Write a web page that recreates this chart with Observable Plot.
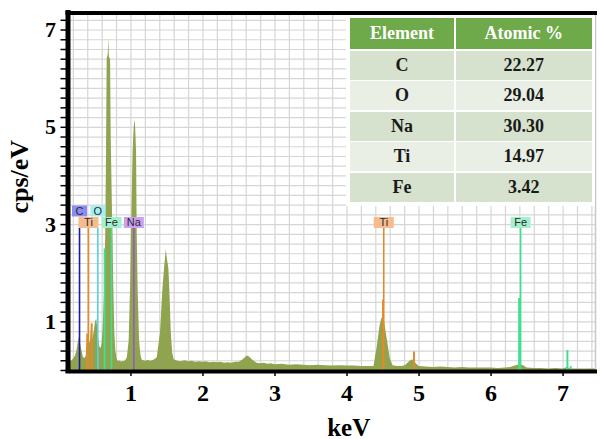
<!DOCTYPE html>
<html>
<head>
<meta charset="utf-8">
<script src="https://cdn.jsdelivr.net/npm/d3@7"></script>
<script src="https://cdn.jsdelivr.net/npm/@observablehq/plot@0.6"></script>
<style>
  body { margin: 0; background: #fff; }
  #chart { position: relative; width: 600px; height: 439px; overflow: hidden; }
  #chart svg { position: absolute; left: 0; top: 0; }
  #tableBox { position: absolute; left: 346px; top: 15px; width: 249px; height: 191px; background: #fff; }
  #comp {
    position: absolute; left: 350px; top: 18px;
    display: grid; grid-template-columns: 104px 136.5px;
    grid-template-rows: 31px repeat(5, 29px); gap: 1.5px;
    font-family: "Liberation Serif", "Times New Roman", serif; font-weight: bold; font-size: 18px;
  }
  #comp div { display: flex; align-items: center; justify-content: center; }
  #comp .hd { background: #6eaa4a; color: #fff; }
  #comp .dark { background: #d7e2ce; color: #1a1a1a; }
  #comp .light { background: #e9efe4; color: #1a1a1a; }
</style>
</head>
<body>
<div id="chart"></div>
<script>
// EDS spectrum: energy (keV) and intensity (cps/eV)
const energy = [
  0.13, 0.15, 0.17, 0.19, 0.21, 0.23, 0.25, 0.27, 0.285, 0.30, 0.32, 0.34, 0.36, 0.38,
  0.395, 0.41, 0.425, 0.44, 0.455, 0.47, 0.485, 0.50, 0.51, 0.525, 0.54, 0.555, 0.57, 0.585,
  0.60, 0.615, 0.635, 0.65, 0.661, 0.67, 0.685, 0.693, 0.70, 0.717, 0.725, 0.73, 0.749, 0.765,
  0.776, 0.79, 0.81, 0.83, 0.85, 0.87, 0.89, 0.91, 0.93, 0.95, 0.975, 0.994, 1.008, 1.03,
  1.045, 1.055, 1.065, 1.078, 1.087, 1.10, 1.12, 1.14, 1.157, 1.18, 1.21, 1.24, 1.27, 1.30,
  1.33, 1.365, 1.41, 1.443, 1.467, 1.49, 1.505, 1.526, 1.54, 1.56, 1.58, 1.60, 1.65, 1.70,
  1.75, 1.80, 1.85, 1.90, 1.95, 2.00, 2.05, 2.10, 2.15, 2.20, 2.25, 2.30, 2.35, 2.40, 2.45,
  2.50, 2.55, 2.60, 2.62, 2.65, 2.70, 2.75, 2.80, 2.85, 2.90, 2.95, 3.00, 3.10, 3.20, 3.30,
  3.40, 3.50, 3.60, 3.70, 3.80, 3.90, 4.00, 4.10, 4.20, 4.30, 4.374, 4.42, 4.457, 4.485,
  4.52, 4.56, 4.60, 4.64, 4.70, 4.76, 4.81, 4.86, 4.907, 4.95, 5.00, 5.10, 5.20, 5.30, 5.40,
  5.50, 5.60, 5.70, 5.80, 5.90, 6.00, 6.10, 6.20, 6.27, 6.35, 6.40, 6.45, 6.50, 6.60, 6.70,
  6.80, 6.90, 7.00, 7.06, 7.10, 7.20, 7.30, 7.45
];
const counts = [
  0.16, 0.17, 0.19, 0.21, 0.25, 0.30, 0.40, 0.58, 0.69, 0.55, 0.40, 0.27, 0.24, 0.30,
  0.75, 0.50, 0.55, 0.62, 0.96, 0.62, 0.75, 0.90, 1.00, 1.06, 0.85, 0.60, 0.48, 0.45,
  0.55, 0.90, 1.65, 2.80, 4.50, 6.40, 6.50, 6.83, 6.45, 6.39, 4.90, 4.44, 2.80, 1.50,
  0.77, 0.40, 0.22, 0.18, 0.20, 0.17, 0.19, 0.18, 0.21, 0.26, 0.60, 1.65, 2.82, 4.50,
  5.00, 5.15, 5.00, 4.50, 2.80, 1.65, 0.60, 0.30, 0.21, 0.20, 0.19, 0.21, 0.19, 0.20,
  0.22, 0.26, 0.77, 1.65, 2.10, 2.48, 2.30, 2.10, 1.65, 0.77, 0.35, 0.22, 0.19, 0.18,
  0.20, 0.18, 0.19, 0.17, 0.18, 0.17, 0.18, 0.16, 0.17, 0.16, 0.17, 0.15, 0.16, 0.15, 0.17,
  0.17, 0.21, 0.28, 0.30, 0.27, 0.20, 0.15, 0.14, 0.15, 0.13, 0.14, 0.12, 0.13, 0.11, 0.12,
  0.11, 0.10, 0.11, 0.10, 0.09, 0.10, 0.09, 0.09, 0.08, 0.08, 0.08, 0.49, 0.90, 1.08,
  1.00, 0.63, 0.24, 0.10, 0.08, 0.08, 0.10, 0.17, 0.22, 0.16, 0.08, 0.07, 0.06, 0.07, 0.06,
  0.05, 0.06, 0.05, 0.05, 0.05, 0.05, 0.04, 0.05, 0.06, 0.10, 0.12, 0.10, 0.05, 0.04, 0.04,
  0.03, 0.04, 0.03, 0.06, 0.03, 0.03, 0.03, 0.03
];

// Labelled element markers
const markerElements = ["C", "Ti", "O", "Fe", "Na", "Ti", "Fe"];
const markerEnergies = [0.286, 0.41, 0.54, 0.73, 1.04, 4.51, 6.41];
const markerHeight = 2.92;

// Secondary (unlabelled) element lines
const minorElements = ["Ti", "Ti", "Fe", "Ti", "Ti", "Fe", "Fe", "Fe"];
const minorEnergies = [0.395, 0.455, 0.635, 4.50, 4.93, 6.39, 7.06, 7.105];
const minorHeights  = [0.75, 0.96, 2.50, 1.45, 0.38, 1.48, 0.41, 0.08];

// Quantification table
const tableElements = ["C", "O", "Na", "Ti", "Fe"];
const atomicPercent = [22.27, 29.04, 30.30, 14.97, 3.42];

// Axis tick labels
const xTickLabels = [1, 2, 3, 4, 5, 6, 7];
const yTickLabels = [1, 3, 5, 7];

const lineColor = { C: "#1b1b9e", O: "#52d4e0", Ti: "#e38b2c", Fe: "#3ee08e", Na: "#8f5cc2" };
const tagFill   = { C: "#8c8cf0", O: "#a6eef2", Ti: "#f6bb8e", Fe: "#a4f0cc", Na: "#c9a0f2" };

const spectrum = energy.map((e, i) => ({ e, c: counts[i] }));
const markers = markerElements.map((element, i) => ({ element, energy: markerEnergies[i] }));
const minor = minorElements.map((element, i) => ({ element, energy: minorEnergies[i], height: minorHeights[i] }));

const xDomain = [0.126, 7.45];
const yDomain = [0, 7.35];
const xGrid = d3.range(1, 38).map(i => i / 5);
const yGrid = d3.range(1, 37).map(i => i / 5);
const yTicks = d3.range(0, 37).map(i => i / 5);

const serif = "'Liberation Serif', 'Times New Roman', serif";
const rectSymbol = w => ({ draw(ctx) { ctx.rect(-w / 2, -5.5, w, 11); } });
const upperRow = new Set(["C", "O"]);

function tags(data, dy) {
  const pos = { x: "energy", y: () => markerHeight, dy };
  return [
    Plot.dot(data.filter(d => d.element.length === 1), { ...pos, r: 5, symbol: rectSymbol(15), fill: d => tagFill[d.element], stroke: "none" }),
    Plot.dot(data.filter(d => d.element.length > 1), { ...pos, r: 5, symbol: rectSymbol(20), fill: d => tagFill[d.element], stroke: "none" }),
    Plot.text(data, { ...pos, text: "element", fontSize: 11, fontFamily: "'Liberation Sans', Arial, sans-serif", fontWeight: "normal", fill: "#2a2a2a", lineAnchor: "middle" })
  ];
}

const chart = Plot.plot({
  width: 600,
  height: 439,
  marginLeft: 67.5,
  marginRight: 5,
  marginTop: 12.5,
  marginBottom: 69,
  style: { fontFamily: serif, color: "black", background: "white" },
  x: { domain: xDomain, label: null },
  y: { domain: yDomain, label: null },
  color: { type: "identity" },
  marks: [
    Plot.gridX(xGrid, { stroke: "#d6d6d6", strokeOpacity: 1, strokeWidth: 1.2 }),
    Plot.gridY(yGrid, { stroke: "#d6d6d6", strokeOpacity: 1, strokeWidth: 1.2 }),
    Plot.areaY(spectrum, { x: "e", y: "c", fill: "#90a34e", curve: "linear" }),
    Plot.ruleX(minor, { x: "energy", y1: 0, y2: "height", stroke: d => lineColor[d.element], strokeWidth: 2 }),
    Plot.ruleX(markers, { x: "energy", y1: 0, y2: markerHeight, stroke: d => lineColor[d.element], strokeWidth: 1.6 }),
    ...tags(markers.filter(d => !upperRow.has(d.element) || d.energy > 1.5), -6),
    ...tags(markers.filter(d => upperRow.has(d.element) && d.energy < 1.5), -17.5),
    // plot frame
    Plot.ruleX([xDomain[1]], { stroke: "#c8c8c8", strokeWidth: 1.5 }),
    Plot.ruleY([yDomain[1]], { stroke: "black", strokeWidth: 4, strokeLinecap: "square" }),
    Plot.ruleX([xDomain[0]], { stroke: "black", strokeWidth: 5, strokeLinecap: "square" }),
    Plot.ruleY([0], { stroke: "black", strokeWidth: 4, strokeLinecap: "square", dy: 1 }),
    // axes
    Plot.axisY({ ticks: yTicks, tickSize: 7, tickPadding: 5, strokeWidth: 1.5, label: null,
      tickFormat: d => yTickLabels.includes(d) ? String(d) : "",
      fontSize: 22, fontWeight: "bold", fontFamily: serif }),
    Plot.axisX({ ticks: xTickLabels, tickSize: 6, tickPadding: 7, strokeWidth: 1.5, label: null,
      tickFormat: d => String(d), fontSize: 24, fontWeight: "bold", fontFamily: serif }),
    // axis titles
    Plot.text(["cps/eV"], { text: d => d, frameAnchor: "left", rotate: -90, dx: -48, dy: -15,
      fontSize: 26, fontWeight: "bold", fontFamily: serif, textAnchor: "middle", lineAnchor: "middle", fill: "black" }),
    Plot.text(["keV"], { text: d => d, frameAnchor: "bottom", dx: 17, dy: 57,
      fontSize: 25, fontWeight: "bold", fontFamily: serif, textAnchor: "middle", lineAnchor: "middle", fill: "black" })
  ]
});

const root = document.getElementById("chart");
root.appendChild(chart);

// Composition table
const box = document.createElement("div");
box.id = "tableBox";
root.appendChild(box);
const table = document.createElement("div");
table.id = "comp";
const cell = (text, cls) => {
  const c = document.createElement("div");
  c.className = cls;
  c.textContent = text;
  table.appendChild(c);
};
cell("Element", "hd");
cell("Atomic %", "hd");
tableElements.forEach((el, i) => {
  const cls = i % 2 === 0 ? "dark" : "light";
  cell(el, cls);
  cell(atomicPercent[i].toFixed(2), cls);
});
root.appendChild(table);
</script>
</body>
</html>
